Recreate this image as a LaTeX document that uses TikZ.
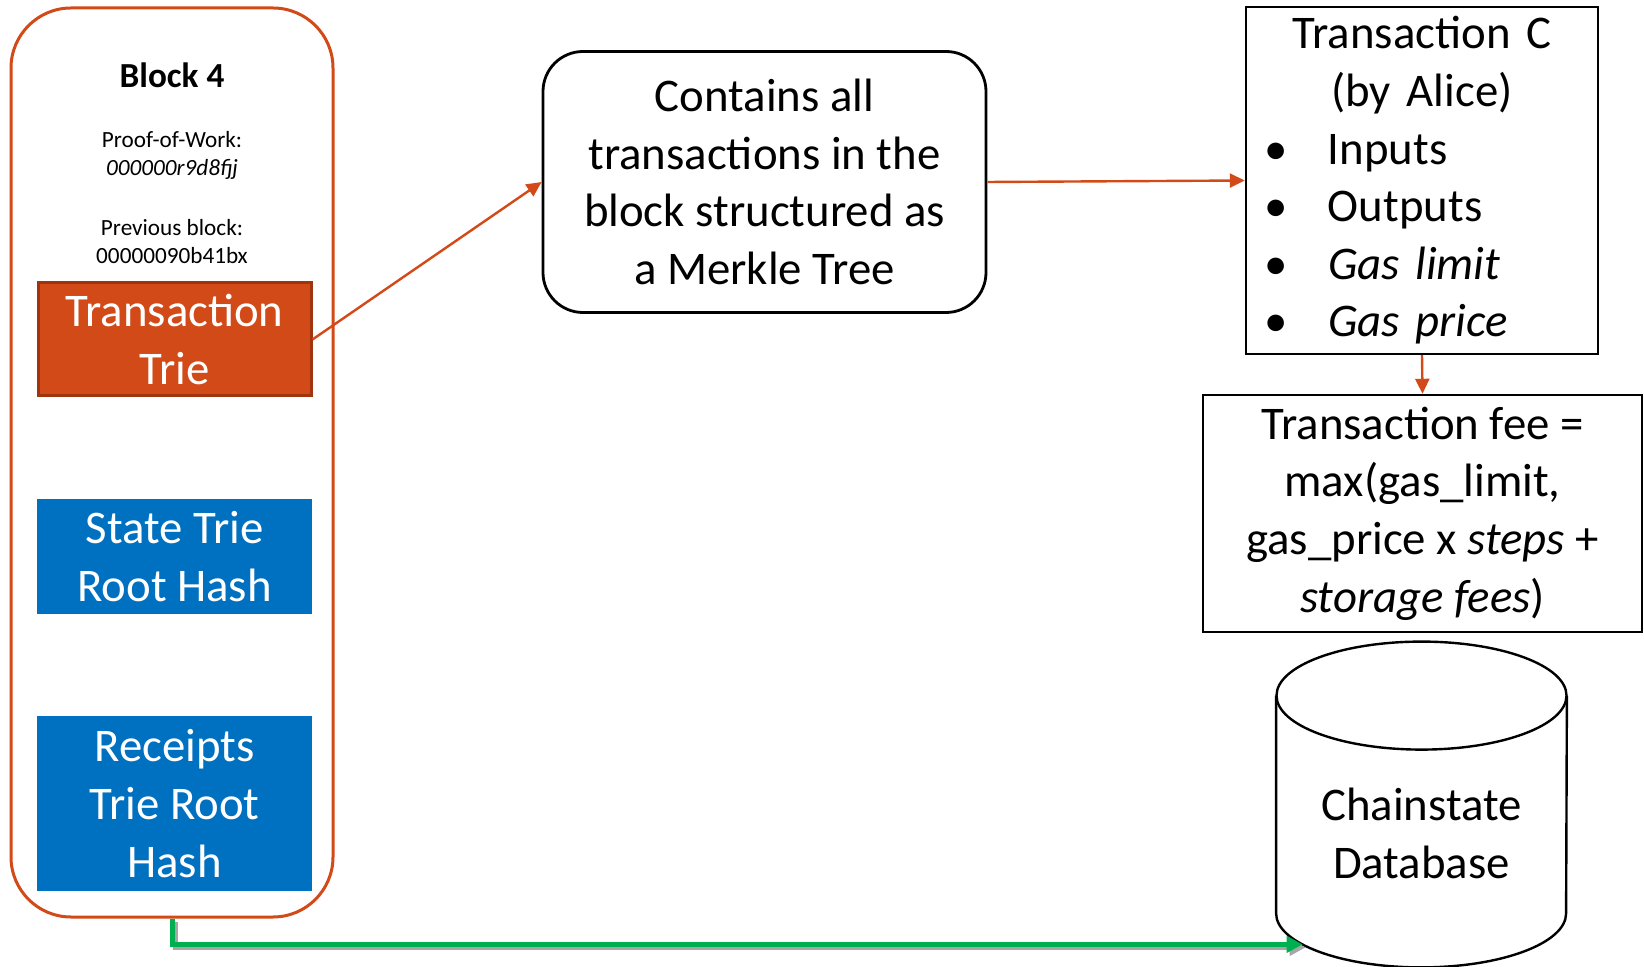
\documentclass[tikz,border=0pt]{standalone}
\usepackage{fontspec}
\setmainfont{Carlito}
\usetikzlibrary{shapes.geometric, arrows.meta, positioning}
\definecolor{blockorange}{RGB}{210,74,24}
\definecolor{blockorangedark}{RGB}{160,52,14}
\definecolor{trieblue}{RGB}{0,112,192}
\definecolor{dbgreen}{RGB}{0,176,80}
\newcommand{\mainfont}{\fontsize{23.4}{28.8}\selectfont}
\newcommand{\bitem}{\makebox[36pt][l]{\hspace{4pt}\textbullet}}
\tikzset{
  % Outer block frame
  blockframe/.style={
    rectangle, rounded corners=30pt, draw=blockorange, line width=1.5pt,
    minimum width=161pt, minimum height=454.5pt, inner sep=0pt
  },
  % Trie box inside the block (parameterized by color)
  triebox/.style={
    rectangle, draw=#1, fill=#1, text=white, line width=0.8pt,
    minimum width=136.5pt, minimum height=56.5pt, inner sep=2pt,
    align=center, font=\mainfont
  },
  smalltext/.style={font=\fontsize{11.6}{14}\selectfont, align=center, inner sep=0pt},
  roundbox/.style={
    rectangle, rounded corners=20pt, draw=black, line width=1.4pt,
    minimum width=221.5pt, minimum height=130.5pt, align=center, font=\mainfont
  },
  plainbox/.style={
    rectangle, draw=black, line width=1.2pt, font=\mainfont, inner sep=4pt
  },
  dbnode/.style={
    rectangle, minimum width=145pt, minimum height=162.5pt, inner sep=0pt
  },
  dbline/.style={draw=black, line width=1.2pt},
  orangearrow/.style={-{Triangle[length=7.5pt, width=7pt]}, line width=1.2pt, blockorange},
  greenarrow/.style={-{Triangle[length=8pt, width=8pt]}, line width=2.5pt, dbgreen}
}

\begin{document}
\begin{tikzpicture}[x={(0.5pt,0)}, y={(0,-0.5pt)}]
  \useasboundingbox (0,0) rectangle (1644,967);

  % Block 4
  \node[blockframe] (block) at (172,462.5) {};
  \node[font=\fontsize{17.6}{21}\selectfont\bfseries] (title) at (172,75) {Block 4};
  \node[smalltext] (pow) at (172,155) {Proof-of-Work:\\\textit{000000r9d8fjj}};
  \node[smalltext] (prev) at (172,241.5) {Previous block:\\00000090b41bx};
  \node[triebox=blockorange, draw=blockorangedark, line width=1.5pt] (txtrie) at (174.5,339.5) {Transaction\\Trie};
  \node[triebox=trieblue] (statetrie) at (174.5,556.5) {State Trie\\Root Hash};
  \node[triebox=trieblue, minimum height=86.5pt] (receipts) at (174.5,803.5) {Receipts\\Trie Root\\Hash};

  % Right-hand nodes
  \node[roundbox] (merkle) at (764.5,182) {Contains all\\transactions in the\\block structured as\\a Merkle Tree};
  \node[plainbox, minimum width=176pt, minimum height=173.5pt, text width=166pt, align=left] (txc) at (1422,180.5)
    {\centering Transaction C\\(by Alice)\par\raggedright
     \bitem Inputs\\\bitem Outputs\\\bitem\textit{Gas limit}\\\bitem\textit{Gas price}};
  \node[plainbox, minimum width=219.5pt, minimum height=118.5pt, align=center] (fee) at (1422.5,513.5)
    {Transaction fee =\\max(gas\_limit,\\gas\_price x \textit{steps} +\\\textit{storage fees})};

  % Database cylinder
  \node[dbnode] (db) at (1421.5,804.5) {};
  \draw[dbline] ([yshift=-27pt]db.north west) -- ([yshift=27pt]db.south west)
    arc[start angle=180, end angle=360, x radius=72.5pt, y radius=27pt]
    -- ([yshift=-27pt]db.north east);
  \draw[dbline] ([yshift=-27pt]db.north) ellipse[x radius=72.5pt, y radius=27pt];
  \node[font=\mainfont, align=center, yshift=-14.5pt] (dblabel) at (db.center) {Chainstate\\Database};
  \coordinate (dbin) at ([shift={(-59.4pt,11.5pt)}]db.south);

  % Arrows
  \draw[orangearrow] (txtrie.east) -- (merkle.west);
  \draw[orangearrow] (merkle.east) -- (txc.west);
  \draw[orangearrow] (txc.south) -- (fee.north);
  \draw[greenarrow, black!35, transform canvas={xshift=1.5pt, yshift=-1.5pt}] (block.south) |- (dbin);
  \draw[greenarrow] (block.south) |- (dbin);
\end{tikzpicture}
\end{document}
